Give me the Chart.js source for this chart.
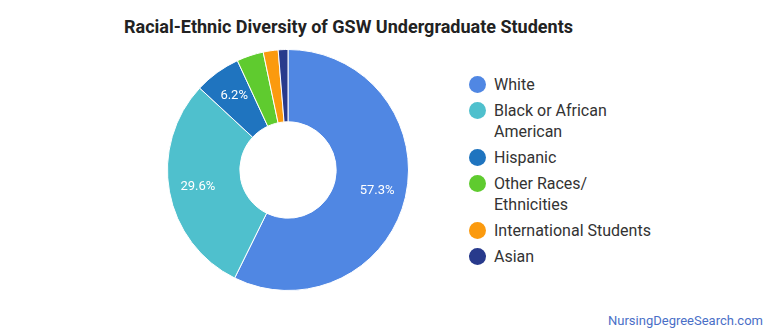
<!DOCTYPE html>
<html>
<head>
<meta charset="utf-8">
<script src="https://cdn.jsdelivr.net/npm/chart.js@4.4.0/dist/chart.umd.min.js"></script>
<style>
  body { margin: 0; background: #fff; font-family: Roboto, "Open Sans", sans-serif; }
  #wrap { position: relative; width: 770px; height: 335px; overflow: hidden; }
  #title { position: absolute; left: 124px; top: 16px; font-size: 18px; font-weight: bold; color: #222; white-space: nowrap; }
  #chartBox { position: absolute; left: 167px; top: 49px; width: 242px; height: 242px; }
  #legend { position: absolute; left: 469px; top: 74px; }
  .item { position: relative; padding-left: 25px; font-size: 16px; line-height: 21px; color: #333; margin-bottom: 5px; }
  .dot { position: absolute; left: 0; top: 2px; width: 17px; height: 17px; border-radius: 50%; }
  #credit { position: absolute; right: 7px; top: 313px; font-size: 13px; color: #4a6fc7; }
</style>
</head>
<body>
<div id="wrap">
  <div id="title">Racial-Ethnic Diversity of GSW Undergraduate Students</div>
  <div id="chartBox"><canvas id="pieChart" width="242" height="242"></canvas></div>
  <div id="legend"></div>
  <div id="credit">NursingDegreeSearch.com</div>
</div>
<script>
const groups = ["White", "Black or African American", "Hispanic", "Other Races/ Ethnicities", "International Students", "Asian"];
const legendLines = [["White"], ["Black or African", "American"], ["Hispanic"], ["Other Races/", "Ethnicities"], ["International Students"], ["Asian"]];
const shares = [57.3, 29.6, 6.2, 3.6, 2.0, 1.3];
const sliceColors = ["#5087e3", "#4fc0cd", "#1f74bf", "#5fcb2f", "#fb9a0e", "#283a8c"];

// legend on the right
const legendEl = document.getElementById("legend");
legendLines.forEach(function(lines, i) {
  const div = document.createElement("div");
  div.className = "item";
  div.innerHTML = '<span class="dot" style="background:' + sliceColors[i] + '"></span>' + lines.join("<br>");
  legendEl.appendChild(div);
});

// percent labels inside the bigger slices, a bit past the ring middle
const sliceLabels = {
  id: "sliceLabels",
  afterDatasetsDraw(chart) {
    const ctx = chart.ctx;
    const meta = chart.getDatasetMeta(0);
    ctx.save();
    ctx.fillStyle = "#fff";
    ctx.font = "13px Roboto, sans-serif";
    ctx.textAlign = "center";
    ctx.textBaseline = "middle";
    meta.data.forEach(function(arc, i) {
      if (shares[i] < 5) return;
      const a = arc.getProps(["x", "y", "startAngle", "endAngle", "innerRadius", "outerRadius"], true);
      const mid = (a.startAngle + a.endAngle) / 2;
      const r = a.innerRadius + (a.outerRadius - a.innerRadius) * 0.6;
      ctx.fillText(shares[i].toFixed(1) + "%", a.x + Math.cos(mid) * r, a.y + Math.sin(mid) * r);
    });
    ctx.restore();
  }
};

const ctxPie = document.getElementById("pieChart").getContext("2d");
const pieChart = new Chart(ctxPie, {
  type: "doughnut",
  data: {
    labels: groups,
    datasets: [{
      data: shares,
      backgroundColor: sliceColors,
      borderColor: "#fff",
      borderWidth: 1
    }]
  },
  options: {
    responsive: false,
    animation: false,
    cutout: "40%",
    layout: { padding: 0 },
    plugins: {
      legend: { display: false },
      tooltip: { enabled: false },
      title: { display: false }
    }
  },
  plugins: [sliceLabels]
});
</script>
</body>
</html>
